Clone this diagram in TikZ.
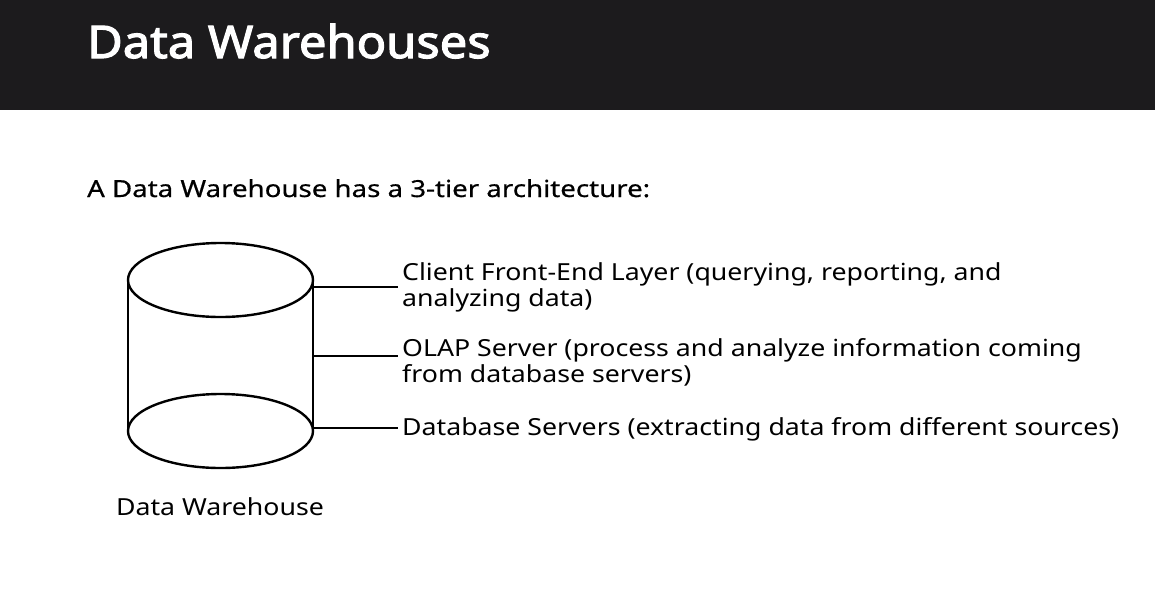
\documentclass[tikz,border=0pt]{standalone}
\usepackage{fontspec}
\setmainfont{Noto Sans}
\newfontfamily\bodyfont[FakeStretch=1.136]{Noto Sans}
\newfontfamily\medfont[FakeBold=0.6,FakeStretch=1.177]{Noto Sans}
\newfontfamily\titlefont[FakeBold=2.6,FakeStretch=1.085]{Noto Sans}
\definecolor{band}{HTML}{1C1B1D}
\begin{document}
\begin{tikzpicture}[x=1pt,y=-1pt,
  line/.style={line width=2.4pt,black},
  label/.style={anchor=base west,inner sep=0pt,align=left,font=\bodyfont\fontsize{23.5}{25.5}\selectfont},
  ]
\useasboundingbox (0,0) rectangle (1155,600);
\fill[band] (0,0) rectangle (1155,110);
\node[anchor=base west,inner sep=0pt,text=white,font=\titlefont\fontsize{45}{50}\selectfont] (title) at (87,58) {Data Warehouses};
\node[anchor=base west,inner sep=0pt,font=\medfont\fontsize{23.5}{26}\selectfont] (sub) at (87,197) {A Data Warehouse has a 3-tier architecture:};
% cylinder
\draw[line] (220.5,280) ellipse [x radius=92.5, y radius=37];
\draw[line] (220.5,431) ellipse [x radius=92.5, y radius=37];
\draw[line] (128,280) -- (128,431);
\draw[line] (313,280) -- (313,431);
\coordinate (c1) at (313,287);
\coordinate (c2) at (313,356);
\coordinate (c3) at (313,428);
\node[label] (t1) at (402,306) {Client Front-End Layer (querying, reporting, and\\analyzing data)};
\node[label] (t2) at (402,382) {OLAP Server (process and analyze information coming\\from database servers)};
\node[label] (t3) at (402,435) {Database Servers (extracting data from different sources)};
\draw[line] (c1) -- ([xshift=-4pt]c1 -| t1.west);
\draw[line] (c2) -- ([xshift=-4pt]c2 -| t2.west);
\draw[line] (c3) -- ([xshift=-4pt]c3 -| t3.west);
\node[anchor=base,inner sep=0pt,font=\bodyfont\fontsize{23.5}{26}\selectfont] (cap) at (220,515) {Data Warehouse};
\end{tikzpicture}
\end{document}
